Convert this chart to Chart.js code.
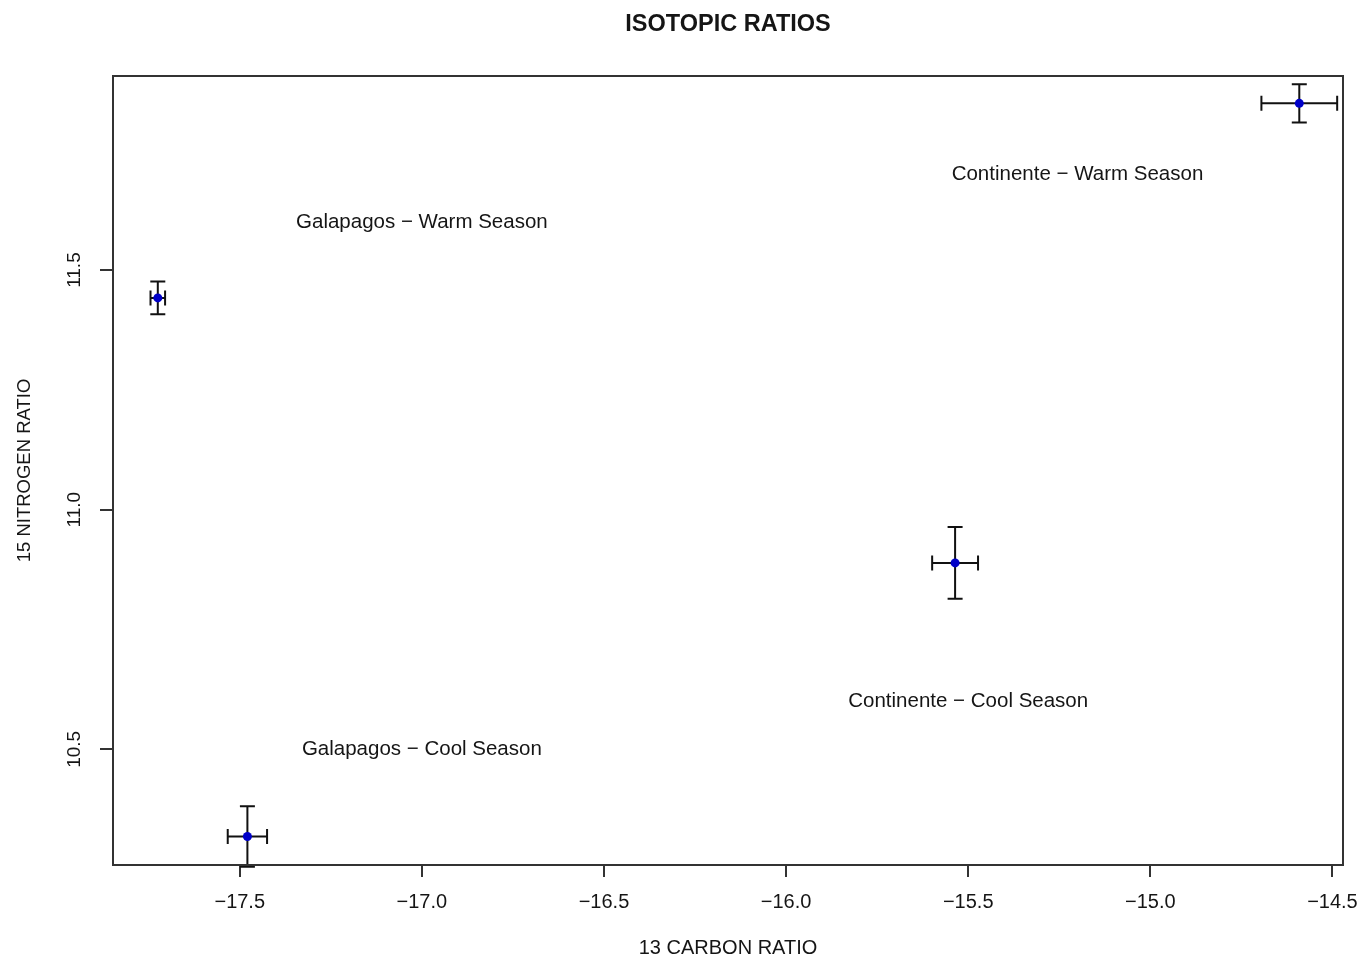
<!DOCTYPE html>
<html>
<head>
<meta charset="UTF-8">
<title>Isotopic Ratios</title>
<style>
  body { margin: 0; background: #fff; }
  canvas { display: block; }
</style>
</head>
<body>
<canvas id="isoChart" width="1364" height="960"></canvas>
<script src="https://cdn.jsdelivr.net/npm/chart.js"></script>
<script>
// Data
const groups = ['Galapagos - Warm Season', 'Galapagos - Cool Season', 'Continente - Cool Season', 'Continente - Warm Season'];
const carbon = [-17.725, -17.479, -15.536, -14.591];
const nitrogen = [11.442, 10.318, 10.889, 11.848];
const carbonErr = [0.02, 0.054, 0.063, 0.104];
const nitrogenErr = [0.034, 0.063, 0.075, 0.04];

// Text labels placed in the plot
const labelText = ['Galapagos \u2212 Warm Season', 'Galapagos \u2212 Cool Season', 'Continente \u2212 Warm Season', 'Continente \u2212 Cool Season'];
const labelX = [-17.0, -17.0, -15.2, -15.5];
const labelY = [11.6, 10.5, 11.7, 10.6];

const FONT = '"Liberation Sans", Arial, Helvetica, sans-serif';
const INK = '#151515';

const fmt = v => (v < 0 ? '\u2212' : '') + Math.abs(v).toFixed(1);

// Error bars, box, text
const extras = {
  id: 'extras',
  beforeDatasetsDraw(chart) {
    const ctx = chart.ctx;
    const xs = chart.scales.x, ys = chart.scales.y;
    const cap = 7.5;
    ctx.save();
    ctx.strokeStyle = '#111';
    ctx.lineWidth = 2;
    for (let i = 0; i < carbon.length; i++) {
      const px = xs.getPixelForValue(carbon[i]);
      const py = ys.getPixelForValue(nitrogen[i]);
      const x0 = xs.getPixelForValue(carbon[i] - carbonErr[i]);
      const x1 = xs.getPixelForValue(carbon[i] + carbonErr[i]);
      const y0 = ys.getPixelForValue(nitrogen[i] - nitrogenErr[i]);
      const y1 = ys.getPixelForValue(nitrogen[i] + nitrogenErr[i]);
      ctx.beginPath();
      ctx.moveTo(x0, py); ctx.lineTo(x1, py);
      ctx.moveTo(x0, py - cap); ctx.lineTo(x0, py + cap);
      ctx.moveTo(x1, py - cap); ctx.lineTo(x1, py + cap);
      ctx.moveTo(px, y0); ctx.lineTo(px, y1);
      ctx.moveTo(px - cap, y0); ctx.lineTo(px + cap, y0);
      ctx.moveTo(px - cap, y1); ctx.lineTo(px + cap, y1);
      ctx.stroke();
    }
    ctx.restore();
  },
  afterDraw(chart) {
    const ctx = chart.ctx;
    const a = chart.chartArea;
    const xs = chart.scales.x, ys = chart.scales.y;
    ctx.save();
    // plot box
    ctx.strokeStyle = '#333';
    ctx.lineWidth = 2;
    ctx.strokeRect(a.left, a.top, a.right - a.left, a.bottom - a.top);

    ctx.fillStyle = INK;
    ctx.textAlign = 'center';
    ctx.textBaseline = 'middle';

    // labels in plot
    ctx.font = '20.5px ' + FONT;
    for (let i = 0; i < labelText.length; i++) {
      ctx.fillText(labelText[i], xs.getPixelForValue(labelX[i]), ys.getPixelForValue(labelY[i]));
    }

    // title
    ctx.font = 'bold 23.5px ' + FONT;
    ctx.fillText('ISOTOPIC RATIOS', (a.left + a.right) / 2, 25);

    // x axis title
    ctx.font = '20px ' + FONT;
    ctx.fillText('13 CARBON RATIO', (a.left + a.right) / 2, 948);

    // y tick labels (rotated, like R)
    ctx.font = '19px ' + FONT;
    ys.ticks.forEach((t, i) => {
      const py = ys.getPixelForTick(i);
      ctx.save();
      ctx.translate(75, py);
      ctx.rotate(-Math.PI / 2);
      ctx.fillText(fmt(t.value), 0, 0);
      ctx.restore();
    });

    // y axis title
    ctx.font = '18.5px ' + FONT;
    ctx.translate(25, (a.top + a.bottom) / 2);
    ctx.rotate(-Math.PI / 2);
    ctx.fillText('15 NITROGEN RATIO', 0, 0);
    ctx.restore();
  }
};

new Chart(document.getElementById('isoChart'), {
  type: 'scatter',
  data: {
    datasets: [{
      label: 'Isotopic ratios',
      data: carbon.map((c, i) => ({ x: c, y: nitrogen[i] })),
      pointRadius: 4.5,
      pointHoverRadius: 4.5,
      pointBackgroundColor: '#0000c8',
      pointBorderColor: '#0000c8',
      pointBorderWidth: 0
    }]
  },
  options: {
    responsive: false,
    animation: false,
    layout: { padding: { top: 76, right: 21, left: 0, bottom: 0 } },
    plugins: {
      legend: { display: false },
      tooltip: { enabled: false },
      title: { display: false }
    },
    scales: {
      x: {
        type: 'linear',
        min: -17.848,
        max: -14.471,
        afterFit: s => { s.height = 95; s.paddingLeft = 0; s.paddingRight = 0; },
        grid: { drawOnChartArea: false, drawTicks: true, tickLength: 12, color: '#333', lineWidth: 2 },
        border: { display: true, color: '#333', width: 2 },
        ticks: {
          stepSize: 0.5,
          includeBounds: false,
          padding: 13,
          color: INK,
          font: { family: FONT, size: 20 },
          maxRotation: 0,
          callback: v => fmt(v)
        }
      },
      y: {
        type: 'linear',
        min: 10.2586,
        max: 11.905,
        afterFit: s => { s.width = 113; s.paddingTop = 0; s.paddingBottom = 0; },
        grid: { drawOnChartArea: false, drawTicks: true, tickLength: 13, color: '#333', lineWidth: 2 },
        border: { display: true, color: '#333', width: 2 },
        ticks: {
          stepSize: 0.5,
          includeBounds: false,
          color: 'rgba(0,0,0,0)',
          font: { family: FONT, size: 19 },
          callback: v => fmt(v)
        }
      }
    }
  },
  plugins: [extras]
});
</script>
</body>
</html>
